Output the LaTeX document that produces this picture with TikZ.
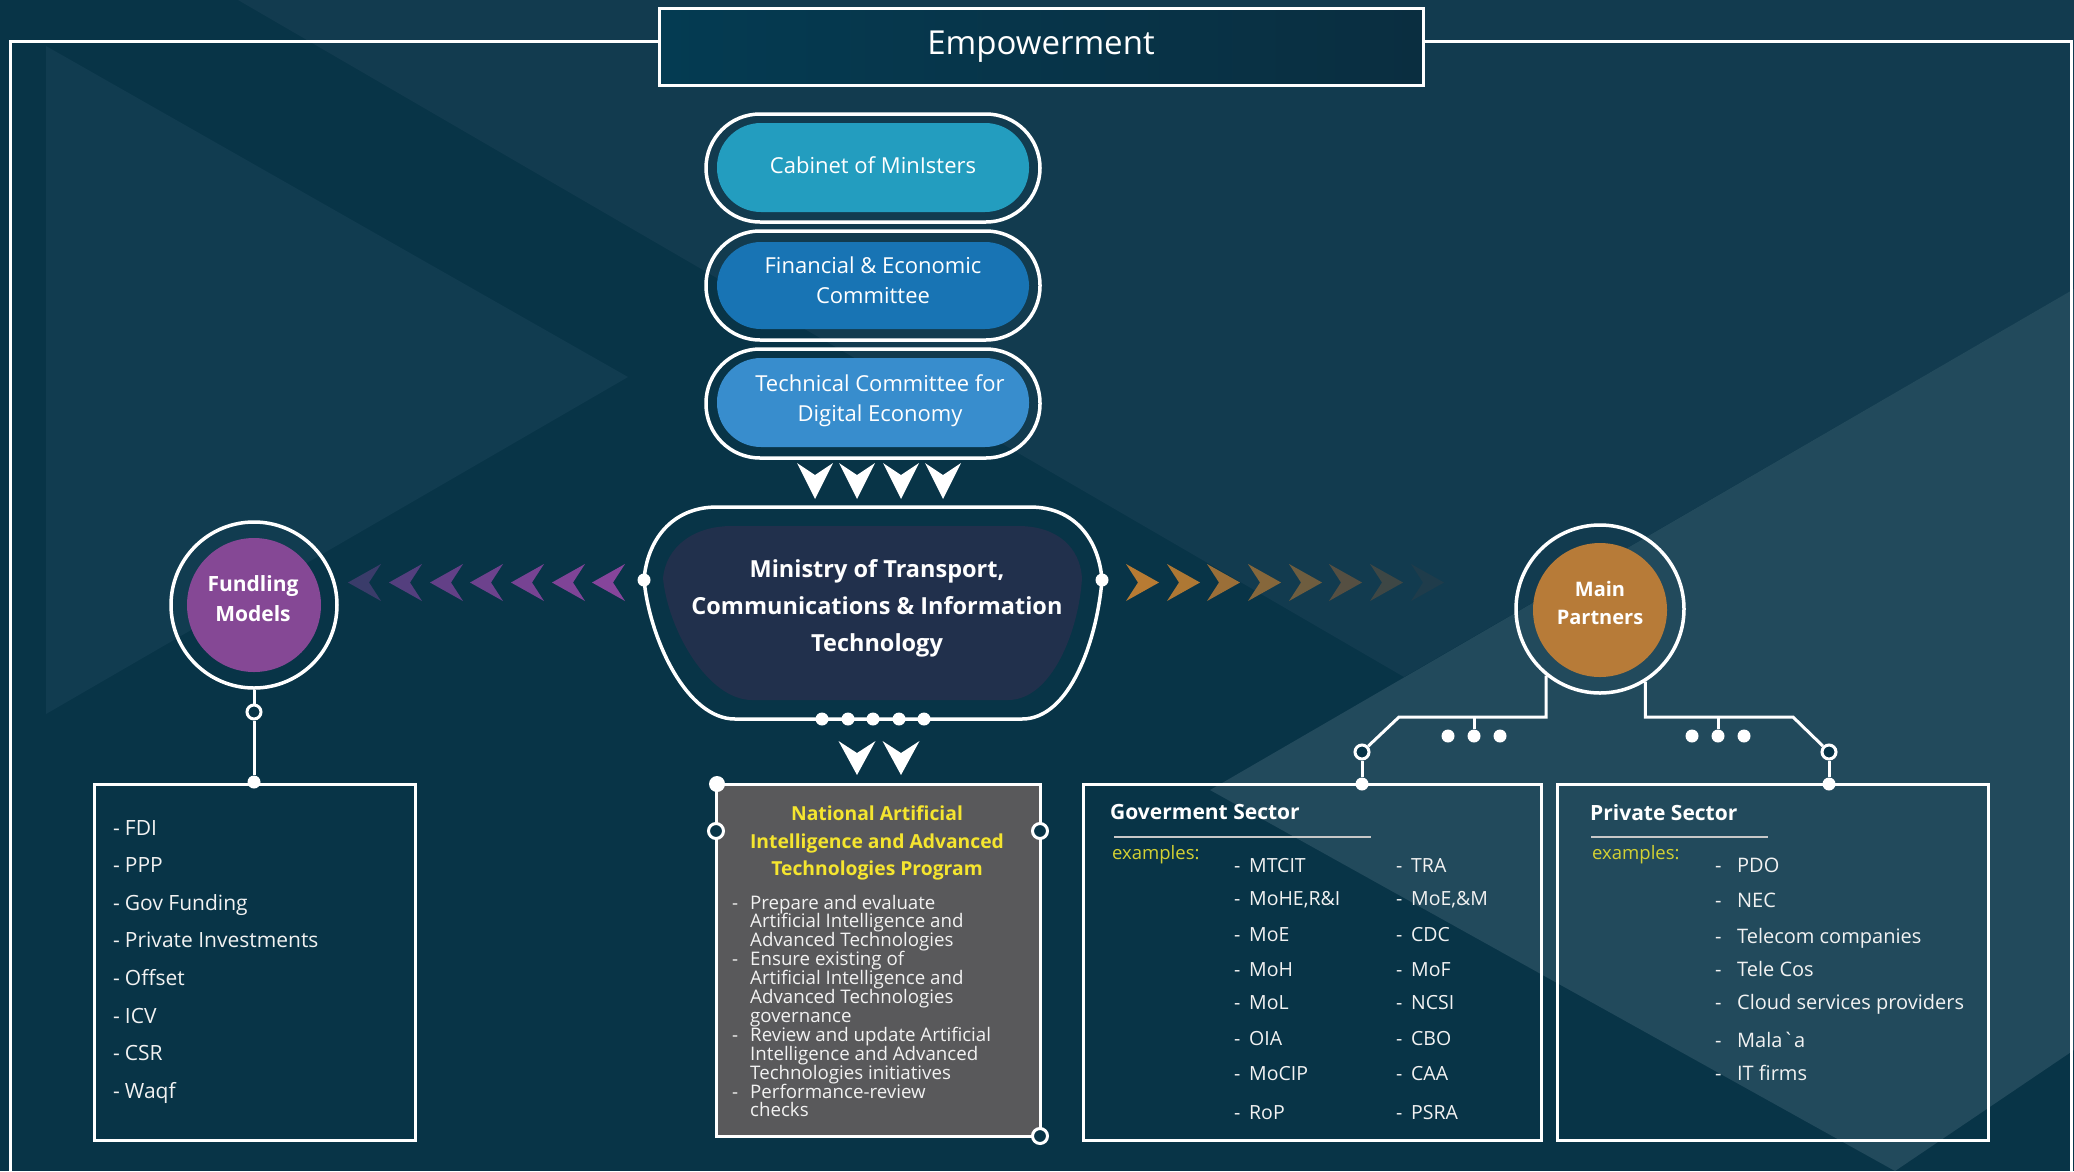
\documentclass[tikz,border=0pt]{standalone}
\usepackage{fontspec}
\setmainfont{Open Sans}
\usetikzlibrary{calc}
\definecolor{bgbase}{HTML}{083447}
\definecolor{bgmid}{HTML}{123B4F}
\definecolor{bglight}{HTML}{224A5C}
\definecolor{bgtri}{HTML}{113C50}
\definecolor{empl}{HTML}{043B52}
\definecolor{empr}{HTML}{0A2E40}
\definecolor{cabc}{HTML}{239DBF}
\definecolor{finc}{HTML}{1874B4}
\definecolor{tecc}{HTML}{388DCD}
\definecolor{minc}{HTML}{21304C}
\definecolor{func}{HTML}{854895}
\definecolor{mpc}{HTML}{B77B38}
\definecolor{naic}{HTML}{59595B}
\definecolor{ytitle}{HTML}{F5E52F}
\definecolor{yex}{HTML}{D4D233}
\definecolor{txt}{HTML}{F2F2F2}
\definecolor{uline}{HTML}{C8C8C8}
\begin{document}
\begin{tikzpicture}[x=1pt,y=-1pt,
  conn/.style={draw=white,line width=3pt},
  ringnode/.style={circle,draw=white,line width=3.5pt,inner sep=0pt},
  pillring/.style={rectangle,draw=white,line width=3.5pt,rounded corners=54pt,minimum width=334pt,minimum height=108pt,inner sep=0pt},
  pillfill/.style={rectangle,rounded corners=44pt,minimum width=312pt,inner sep=0pt},
  pilltxt/.style={inner sep=0pt,text=white,align=center,font=\fontsize{22pt}{30pt}\selectfont},
  dotnode/.style={circle,fill=white,inner sep=0pt,minimum size=13pt},
  opendot/.style={circle,draw=white,fill=bgbase,line width=3pt,inner sep=0pt,minimum size=14pt},
  boxnode/.style={rectangle,draw=white,line width=3pt,inner sep=0pt},
  itemtxt/.style={anchor=base west,inner sep=0pt,text=txt},
  headtxt/.style={anchor=base west,inner sep=0pt,text=white,font=\fontsize{21pt}{25pt}\selectfont\bfseries},
  extxt/.style={anchor=base west,inner sep=0pt,text=yex,font=\fontsize{18.5pt}{22pt}\selectfont},
  circtxt/.style={inner sep=0pt,text=white,align=center,font=\fontsize{21pt}{30pt}\selectfont\bfseries},
]
\useasboundingbox (0,0) rectangle (2074,1171);
% background
\fill[bgbase] (0,0) rectangle (2074,1171);
\fill[bgmid] (238,0) -- (1404,677) -- (2074,289) -- (2074,0) -- cycle;
\fill[bgtri] (46,46) -- (628,377) -- (46,714) -- cycle;
\fill[bglight] (1210,790) -- (2074,289) -- (2074,1050) -- (1895,1171) -- cycle;

% title box and frame
\coordinate (fy) at (0,41);
\node[boxnode,left color=empl,right color=empr,minimum width=764pt,minimum height=77pt,text=white,font=\fontsize{33pt}{40pt}\selectfont] (emp) at (1041,46.5) {Empowerment};
\draw[conn] (emp.west |- fy) -- (10,41) -- (10,1190);
\draw[conn] (emp.east |- fy) -- (2071,41) -- (2071,1190);

% pills
\node[pillring] (cabR) at (873,168) {};
\node[pillfill,fill=cabc,minimum height=89pt] (cab) at (873,167.5) {};
\node[pilltxt] (cabt) at (873,165) {Cabinet of MinIsters};
\node[pillring,minimum height=109pt] (finR) at (873,285.5) {};
\node[pillfill,fill=finc,minimum height=87pt] (fin) at (873,285.5) {};
\node[pilltxt] (fint) at (873,280) {Financial \& Economic\\Committee};
\node[pillring,minimum height=109pt] (tecR) at (873,403.5) {};
\node[pillfill,fill=tecc,minimum height=89pt] (tec) at (873,402.5) {};
\node[pilltxt] (tect) at (880,401) {Technical Committee for\\Digital Economy};

% down chevrons
\foreach \cx in {815,857,901,943}
  \fill[white] ({\cx-18},463) -- (\cx,475) -- ({\cx+18},463) -- (\cx,499) -- cycle;

% ministry
\draw[white,line width=3.5pt] (717,507) -- (1030,507) .. controls (1075,507) and (1099,540) .. (1102,580) .. controls (1097,640) and (1070,719) .. (1022,719) -- (735,719) .. controls (687,719) and (650,640) .. (644,580) .. controls (647,540) and (672,507) .. (717,507) -- cycle;
\fill[minc] (732,526) -- (1018,526) .. controls (1058,526) and (1080,548) .. (1082,578) .. controls (1079,630) and (1052,700) .. (1008,700) -- (752,700) .. controls (708,700) and (668,630) .. (663,578) .. controls (666,548) and (692,526) .. (732,526) -- cycle;
\node[text=white,align=center,inner sep=0pt,font=\fontsize{23.5pt}{37pt}\selectfont\bfseries] (mot) at (877,608) {Ministry of Transport,\\Communications \& Information\\Technology};
\node[dotnode] (mdl) at (644,580) {};
\node[dotnode] (mdr) at (1102,580) {};
\foreach \x [count=\i] in {822,848,873,899,924}
  \node[dotnode] (mb\i) at (\x,719) {};

% lower chevrons
\foreach \cx in {857,901}
  \fill[white] ({\cx-18.5},741) -- (\cx,753) -- ({\cx+18.5},741) -- (\cx,775) -- cycle;

% purple chevrons (pointing left)
\foreach \xt/\c in {348/3A3C6A,389/543F7E,430/634087,470/6D428D,511/774393,552/7F4497,592/86459B}{
  \definecolor{tmpc}{HTML}{\c}
  \fill[tmpc] (\xt,582.5) -- ({\xt+33},564) -- ({\xt+21},582.5) -- ({\xt+33},601) -- cycle;
}
% orange chevrons (pointing right)
\foreach \xb/\c in {1126/B87B33,1167/AE7834,1207/9B6F38,1248/86673B,1289/6E5D3F,1329/554F42,1370/3E4745,1411/1F3C4B}{
  \definecolor{tmpc}{HTML}{\c}
  \fill[tmpc] ({\xb+33},582.5) -- (\xb,564) -- ({\xb+12},582.5) -- (\xb,601) -- cycle;
}

% circles
\node[ringnode,minimum size=166pt] (fundR) at (254,605) {};
\node[circle,inner sep=0pt,fill=func,minimum size=134pt] (fund) at (254,605) {};
\node[circtxt] (fundt) at (253,599) {Fundling\\Models};
\node[ringnode,minimum size=168pt] (mpR) at (1600,609) {};
\node[circle,inner sep=0pt,fill=mpc,minimum size=134pt] (mp) at (1600,610) {};
\node[circtxt,font=\fontsize{20pt}{28pt}\selectfont\bfseries] (mpt) at (1600,603) {Main\\Partners};

% boxes
\node[boxnode,minimum width=321pt,minimum height=356pt] (fbox) at (254.5,962) {};
\node[boxnode,fill=naic,minimum width=324pt,minimum height=352pt] (nbox) at (878,960) {};
\node[boxnode,minimum width=458pt,minimum height=356pt] (gbox) at (1312,962) {};
\node[boxnode,minimum width=431pt,minimum height=356pt] (pbox) at (1772.5,962) {};

% funding connector
\node[opendot] (fundk) at (254,712) {};
\node[dotnode] (fundd) at (254,782) {};
\draw[conn] (fundR) -- (fundk);
\draw[conn] (fundk) -- (fundd);

% partners connectors
\node[opendot] (govk) at (1362,752) {};
\node[dotnode] (govd) at (1362,784) {};
\coordinate (gbend) at (1399,717);
\draw[conn] (mpR.-129) |- (gbend) -- (govk);
\draw[conn] (govk) -- (govd);
\coordinate (gstub) at (1474,717);
\foreach \x [count=\i] in {1448,1474,1500}
  \node[dotnode] (gd\i) at (\x,736) {};
\draw[conn] (gstub) -- (gd2);

\node[opendot] (privk) at (1829,752) {};
\node[dotnode] (privd) at (1829,784) {};
\coordinate (pbend) at (1793,717);
\draw[conn] (mpR.-58) |- (pbend) -- (privk);
\draw[conn] (privk) -- (privd);
\coordinate (pstub) at (1718,717);
\foreach \x [count=\i] in {1692,1718,1744}
  \node[dotnode] (pd\i) at (\x,736) {};
\draw[conn] (pstub) -- (pd2);

% NAI box decorations
\node[dotnode,minimum size=16pt] (nd0) at (717,784) {};
\node[opendot,minimum size=15pt] (nk1) at (716,831) {};
\node[opendot,minimum size=15pt] (nk2) at (1040,831) {};
\node[opendot,minimum size=15pt] (nk3) at (1040,1136) {};

% funding list
\foreach \t [count=\i from 0] in {FDI,PPP,Gov Funding,Private Investments,Offset,ICV,CSR,Waqf}
  \node[itemtxt,font=\fontsize{21pt}{24pt}\selectfont] (fl\i) at (113,{835+37.65*\i}) {-\hspace{5pt}\t};

% NAI text
\node[text=ytitle,align=center,inner sep=0pt,font=\fontsize{19.3pt}{27.8pt}\selectfont\bfseries] (nait) at (877,843) {National Artificial\\Intelligence and Advanced\\Technologies Program};
\foreach \t [count=\i from 0] in {Prepare and evaluate,Artificial Intelligence and,Advanced Technologies,Ensure existing of,Artificial Intelligence and,Advanced Technologies,governance,Review and update Artificial,Intelligence and Advanced,Technologies initiatives,Performance-review,checks}
  \node[itemtxt,font=\fontsize{18.7pt}{20pt}\selectfont] (nl\i) at (750,{909+18.9*\i}) {\t};
\foreach \i in {0,3,7,10}
  \node[itemtxt,font=\fontsize{18.7pt}{20pt}\selectfont] (nb\i) at (732,{909+18.9*\i}) {-};

% government sector
\node[headtxt] (gh) at (1110,819) {Goverment Sector};
\draw[uline,line width=2pt] (1114,837) -- (1371,837);
\node[extxt] (gex) at (1112,859) {examples:};
\foreach \a/\b/\y [count=\i] in {MTCIT/TRA/872,{MoHE,R\&I}/{MoE,\&M}/905,MoE/CDC/941,MoH/MoF/976,MoL/NCSI/1009,OIA/CBO/1045,MoCIP/CAA/1080,RoP/PSRA/1119}{
  \node[itemtxt,font=\fontsize{19.5pt}{23pt}\selectfont] (ga\i) at (1234,\y) {-\hspace{8.7pt}\a};
  \node[itemtxt,font=\fontsize{19.5pt}{23pt}\selectfont] (gb\i) at (1396,\y) {-\hspace{8.7pt}\b};
}

% private sector
\node[headtxt] (ph) at (1590,820) {Private Sector};
\draw[uline,line width=2pt] (1591,837) -- (1768,837);
\node[extxt] (pex) at (1592,859) {examples:};
\foreach \t/\y [count=\i] in {PDO/872.5,NEC/907,Telecom companies/943,Tele Cos/976,Cloud services providers/1009,Mala\textasciigrave a/1047,IT firms/1080}
  \node[itemtxt,font=\fontsize{20pt}{23pt}\selectfont] (pl\i) at (1715,\y) {-\hspace{15.5pt}\t};
\end{tikzpicture}
\end{document}
